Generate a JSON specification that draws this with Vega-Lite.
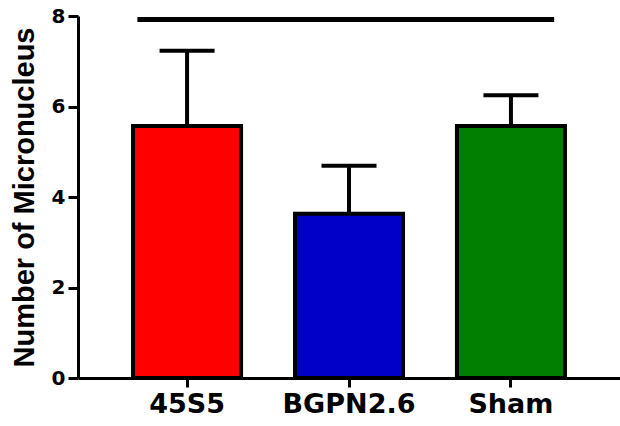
{
  "$schema": "https://vega.github.io/schema/vega-lite/v6.json",
  "autosize": "none",
  "width": 542,
  "height": 362,
  "padding": {"left": 78, "top": 16, "right": 0, "bottom": 48},
  "background": "white",
  "config": {"view": {"stroke": null}},
  "data": {"values": [
    {"group": "45S5", "mean": 5.57, "upper": 7.23},
    {"group": "BGPN2.6", "mean": 3.63, "upper": 4.69},
    {"group": "Sham", "mean": 5.57, "upper": 6.25}
  ]},
  "encoding": {
    "x": {"field": "group", "type": "nominal", "sort": null,
      "scale": {"paddingInner": 0.333, "paddingOuter": 0.34},
      "axis": {"title": null, "labelAngle": 0, "domainColor": "black", "domainWidth": 3, "tickColor": "black", "tickWidth": 3, "tickSize": 9,
        "labelFont": "DejaVu Sans", "labelFontWeight": "bold", "labelFontSize": 27, "labelColor": "black", "labelPadding": 4}}
  },
  "layer": [
    {
      "mark": {"type": "rule", "color": "black", "strokeWidth": 4},
      "encoding": {
        "y": {"field": "mean", "type": "quantitative",
          "scale": {"domain": [0, 8], "nice": false},
          "axis": {"title": "Number of Micronucleus", "values": [0, 2, 4, 6, 8], "grid": false,
            "domainColor": "black", "domainWidth": 3, "tickColor": "black", "tickWidth": 3, "tickSize": 10,
            "labelFont": "DejaVu Sans", "labelFontWeight": "bold", "labelFontSize": 20, "labelColor": "black", "labelPadding": 3,
            "titleFont": "Liberation Sans", "titleFontWeight": "bold", "titleFontSize": 29, "titleColor": "black", "titlePadding": 12}},
        "y2": {"field": "upper"}
      }
    },
    {
      "mark": {"type": "bar", "stroke": "black", "strokeWidth": 4},
      "encoding": {
        "y": {"field": "mean", "type": "quantitative"},
        "color": {"field": "group", "type": "nominal", "legend": null,
          "scale": {"domain": ["45S5", "BGPN2.6", "Sham"], "range": ["#FF0000", "#0000C8", "#007F00"]}}
      }
    },
    {
      "mark": {"type": "tick", "color": "black", "opacity": 1, "thickness": 4, "size": 55},
      "encoding": {"y": {"field": "upper", "type": "quantitative"}}
    },
    {
      "data": {"values": [{"from": "45S5", "to": "Sham", "level": 7.92}]},
      "mark": {"type": "rule", "color": "black", "strokeWidth": 5},
      "encoding": {
        "x": {"field": "from", "type": "nominal", "bandPosition": 0.04},
        "x2": {"field": "to", "bandPosition": 0.9},
        "y": {"field": "level", "type": "quantitative"}
      }
    }
  ]
}
